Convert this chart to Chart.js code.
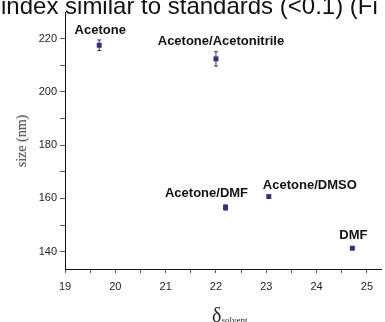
<!DOCTYPE html>
<html>
<head>
<meta charset="utf-8">
<script src="https://cdn.jsdelivr.net/npm/chart.js@4/dist/chart.umd.min.js"></script>
<style>
  html, body { margin: 0; padding: 0; background: #fff; }
  #wrap { position: relative; width: 385px; height: 322px; overflow: hidden; }
  #cv { position: absolute; left: 0; top: 0; }
  .head { position: absolute; left: 1px; top: -8px; font: 24px "Liberation Sans", Arial, sans-serif; color: #111; white-space: nowrap; }
  .ytitle { position: absolute; left: 22px; top: 141px; transform: translate(-50%, -50%) rotate(-90deg);
    font: 14px "Liberation Serif", "Times New Roman", serif; color: #333; white-space: nowrap; }
  .xtitle { position: absolute; left: 212px; top: 304px; font: 20px "Liberation Serif", "Times New Roman", serif; color: #222; white-space: nowrap; }
  .xtitle sub { font-size: 9px; vertical-align: -1px; }
</style>
</head>
<body>
<div id="wrap">
  <canvas id="cv" width="385" height="322"></canvas>
  <div class="head">index similar to standards (&lt;0.1) (Fi</div>
  <div class="ytitle">size (nm)</div>
  <div class="xtitle">δ<sub>solvent</sub></div>
</div>
<script>
// size vs solubility parameter of the solvent
const solvents = ['Acetone', 'Acetone/Acetonitrile', 'Acetone/DMF', 'Acetone/DMSO', 'DMF'];
const deltaSolvent = [19.68, 22.0, 22.19, 23.05, 24.71];
const sizeNm = [217.5, 212.4, 156.6, 160.7, 141.3];
const sizeErr = [2.0, 2.7, 1.0, 0.5, 0.5];
const xTicks = [19, 19.5, 20, 20.5, 21, 21.5, 22, 22.5, 23, 23.5, 24, 24.5, 25];
const yTicks = [140, 150, 160, 170, 180, 190, 200, 210, 220];

// label placement relative to the point (px)
const labelShift = [[1, -15], [5, -17], [-19, -14], [41, -11], [1, -13]];

const pointColor = '#35307a';

const extras = {
  id: 'extras',
  afterDatasetsDraw(chart) {
    const { ctx, scales } = chart;
    const x = scales.x, y = scales.y;
    ctx.save();
    // error bars
    ctx.strokeStyle = pointColor;
    ctx.lineWidth = 1;
    sizeNm.forEach((v, i) => {
      const px = x.getPixelForValue(deltaSolvent[i]);
      const top = y.getPixelForValue(v + sizeErr[i]);
      const bot = y.getPixelForValue(v - sizeErr[i]);
      ctx.beginPath();
      ctx.moveTo(px, top); ctx.lineTo(px, bot);
      ctx.moveTo(px - 2, top); ctx.lineTo(px + 2, top);
      ctx.moveTo(px - 2, bot); ctx.lineTo(px + 2, bot);
      ctx.stroke();
    });
    // point labels
    ctx.fillStyle = '#111';
    ctx.font = 'bold 13px "Liberation Sans", Arial, sans-serif';
    ctx.textAlign = 'center';
    ctx.textBaseline = 'middle';
    solvents.forEach((s, i) => {
      const px = x.getPixelForValue(deltaSolvent[i]) + labelShift[i][0];
      const py = y.getPixelForValue(sizeNm[i]) + labelShift[i][1];
      ctx.fillText(s, px, py);
    });
    ctx.restore();
  }
};

const tickFont = { family: '"Liberation Sans", Arial, sans-serif', size: 11 };

new Chart(document.getElementById('cv'), {
  type: 'scatter',
  data: {
    datasets: [{
      data: deltaSolvent.map((d, i) => ({ x: d, y: sizeNm[i] })),
      pointStyle: 'rect',
      pointRadius: 3.5,
      backgroundColor: pointColor,
      borderColor: pointColor,
      borderWidth: 0
    }]
  },
  options: {
    responsive: false,
    animation: false,
    layout: { padding: { top: 12, right: 0, left: 0, bottom: 0 } },
    plugins: { legend: { display: false }, tooltip: { enabled: false } },
    scales: {
      x: {
        type: 'linear',
        min: 19,
        max: 25.28,
        afterBuildTicks: s => { s.ticks = xTicks.map(v => ({ value: v })); },
        afterFit: s => { s.height = 53; },
        ticks: {
          autoSkip: false,
          maxRotation: 0,
          padding: 7,
          color: '#222',
          font: tickFont,
          callback: v => Number.isInteger(v) ? v : ''
        },
        grid: { drawOnChartArea: false, tickLength: 4, color: '#555', tickColor: '#555' },
        border: { color: '#111', width: 1 }
      },
      y: {
        min: 133.5,
        max: 230,
        afterBuildTicks: s => { s.ticks = yTicks.map(v => ({ value: v })); },
        afterFit: s => { s.width = 65; },
        ticks: {
          autoSkip: false,
          padding: 3,
          color: '#222',
          font: tickFont,
          callback: v => v % 20 === 0 ? v : ''
        },
        grid: { drawOnChartArea: false, tickLength: 5, color: '#555', tickColor: '#555' },
        border: { color: '#111', width: 1 }
      }
    }
  },
  plugins: [extras]
});
</script>
</body>
</html>
